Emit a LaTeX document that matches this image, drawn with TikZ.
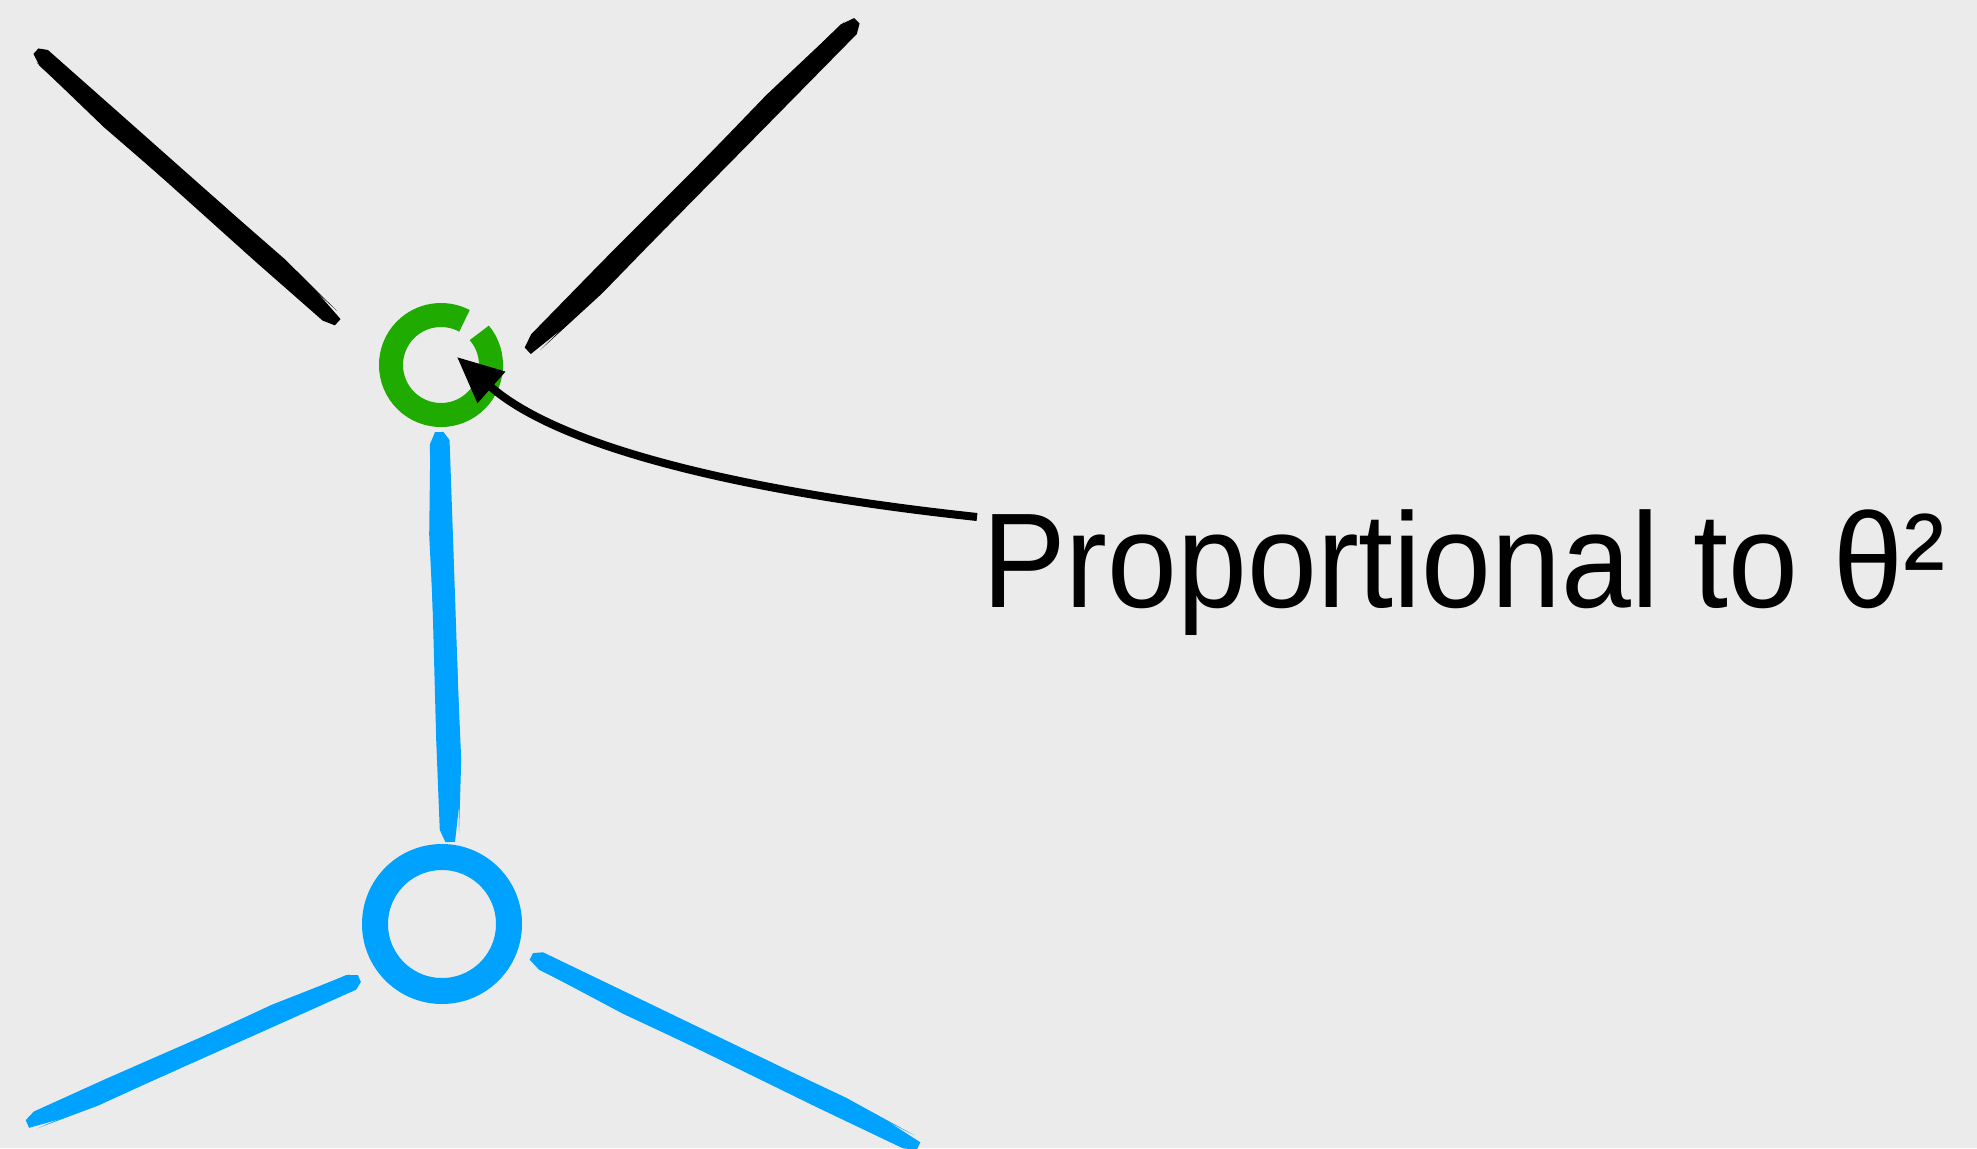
\documentclass[tikz,border=0pt]{standalone}
\usepackage{fontspec}
\setmainfont[FakeStretch=0.93]{Liberation Sans}
\usetikzlibrary{arrows.meta}
\definecolor{bg}{HTML}{EBEBEB}
\definecolor{inkgreen}{HTML}{1FAB00}
\definecolor{inkblue}{HTML}{00A2FF}
\definecolor{inkblack}{HTML}{000000}
% point at fraction t along the stroke, offset o (in half widths) across it
\newcommand\bsDef[3]{\coordinate (#1) at ({\bsXa+(#2)*\bsDx+(#3)*\bsH*\bsPx},{\bsYa+(#2)*\bsDy+(#3)*\bsH*\bsPy});}
% tapered brush band: colour, x1, y1, x2, y2, half width (pt)
\newcommand\brushstroke[6]{%
  \pgfmathsetmacro\bsXa{#2}%
  \pgfmathsetmacro\bsYa{#3}%
  \pgfmathsetmacro\bsDx{#4-#2}%
  \pgfmathsetmacro\bsDy{#5-#3}%
  \pgfmathsetmacro\bsL{veclen(\bsDx,\bsDy)}%
  \pgfmathsetmacro\bsPx{-\bsDy/\bsL}%
  \pgfmathsetmacro\bsPy{\bsDx/\bsL}%
  \pgfmathsetmacro\bsH{#6}%
  \bsDef{q1}{0}{0.5}\bsDef{q2}{0.03}{0.95}\bsDef{q3}{0.35}{1.0}\bsDef{q4}{0.75}{0.9}
  \bsDef{q5}{0.97}{0.75}\bsDef{q6}{1}{0.3}\bsDef{q7}{1}{-0.5}\bsDef{q8}{0.9}{-0.95}
  \bsDef{q9}{0.6}{-1.0}\bsDef{q10}{0.3}{-0.85}\bsDef{q11}{0.02}{-0.7}\bsDef{q12}{0}{-0.2}
  \fill[#1] (q1) -- (q2) -- (q3) -- (q4) -- (q5) -- (q6) -- (q7) -- (q8) -- (q9) -- (q10) -- (q11) -- (q12) -- cycle;
  \bsDef{r1}{0.02}{0.9}\bsDef{r2}{0.25}{1.15}\bsDef{r3}{0.45}{0.95}
  \bsDef{r4}{0.55}{-0.95}\bsDef{r5}{0.8}{-1.15}\bsDef{r6}{0.98}{-0.85}
  \fill[#1] (r1) -- (r2) -- (r3) -- cycle;
  \fill[#1] (r4) -- (r5) -- (r6) -- cycle;
}
\begin{document}
\begin{tikzpicture}[x=1pt,y=-1pt,
  label/.style={anchor=base west, inner sep=0pt, font=\fontsize{135}{135}\selectfont},
  pointer/.style={line width=8pt, -{Triangle[length=46pt,width=40pt]}}]
\fill[bg] (0,0) rectangle (1977,1148);
\useasboundingbox (0,0) rectangle (1977,1148);

% vertices
\node[circle, inner sep=0pt, minimum size=128pt] (gv) at (441,365) {};
\node[circle, inner sep=0pt, minimum size=162pt] (bv) at (442,924) {};

% black lines
\brushstroke{inkblack}{37}{50}{337}{323}{10.5}
\brushstroke{inkblack}{858}{22}{527}{350}{11}

% blue lines
\brushstroke{inkblue}{441}{432}{449}{842}{12}
\brushstroke{inkblue}{360}{980}{27}{1123}{10.5}
\brushstroke{inkblue}{532}{955}{918}{1147}{10.5}

% green ring
\draw[inkgreen, line width=24pt] (gv.center) ++(-40:50) arc[start angle=-40, end angle=298, radius=50];
\draw[inkgreen, line width=5pt] (gv.center) ++(-30:59) arc[start angle=-30, end angle=200, radius=59];

% blue ring
\draw[inkblue, line width=26pt] (bv.center) circle[radius=67];
\draw[inkblue, line width=5pt] (bv.center) ++(-80:77) arc[start angle=-80, end angle=60, radius=77];

% label and arrow
\node[label] (lab) at (982,607) {Proportional to θ²};
\coordinate (as) at (977,517);
\coordinate (tip) at (457,357);
\draw[pointer] (as) .. controls (745,492) and (560,448) .. (tip);
\end{tikzpicture}
\end{document}
